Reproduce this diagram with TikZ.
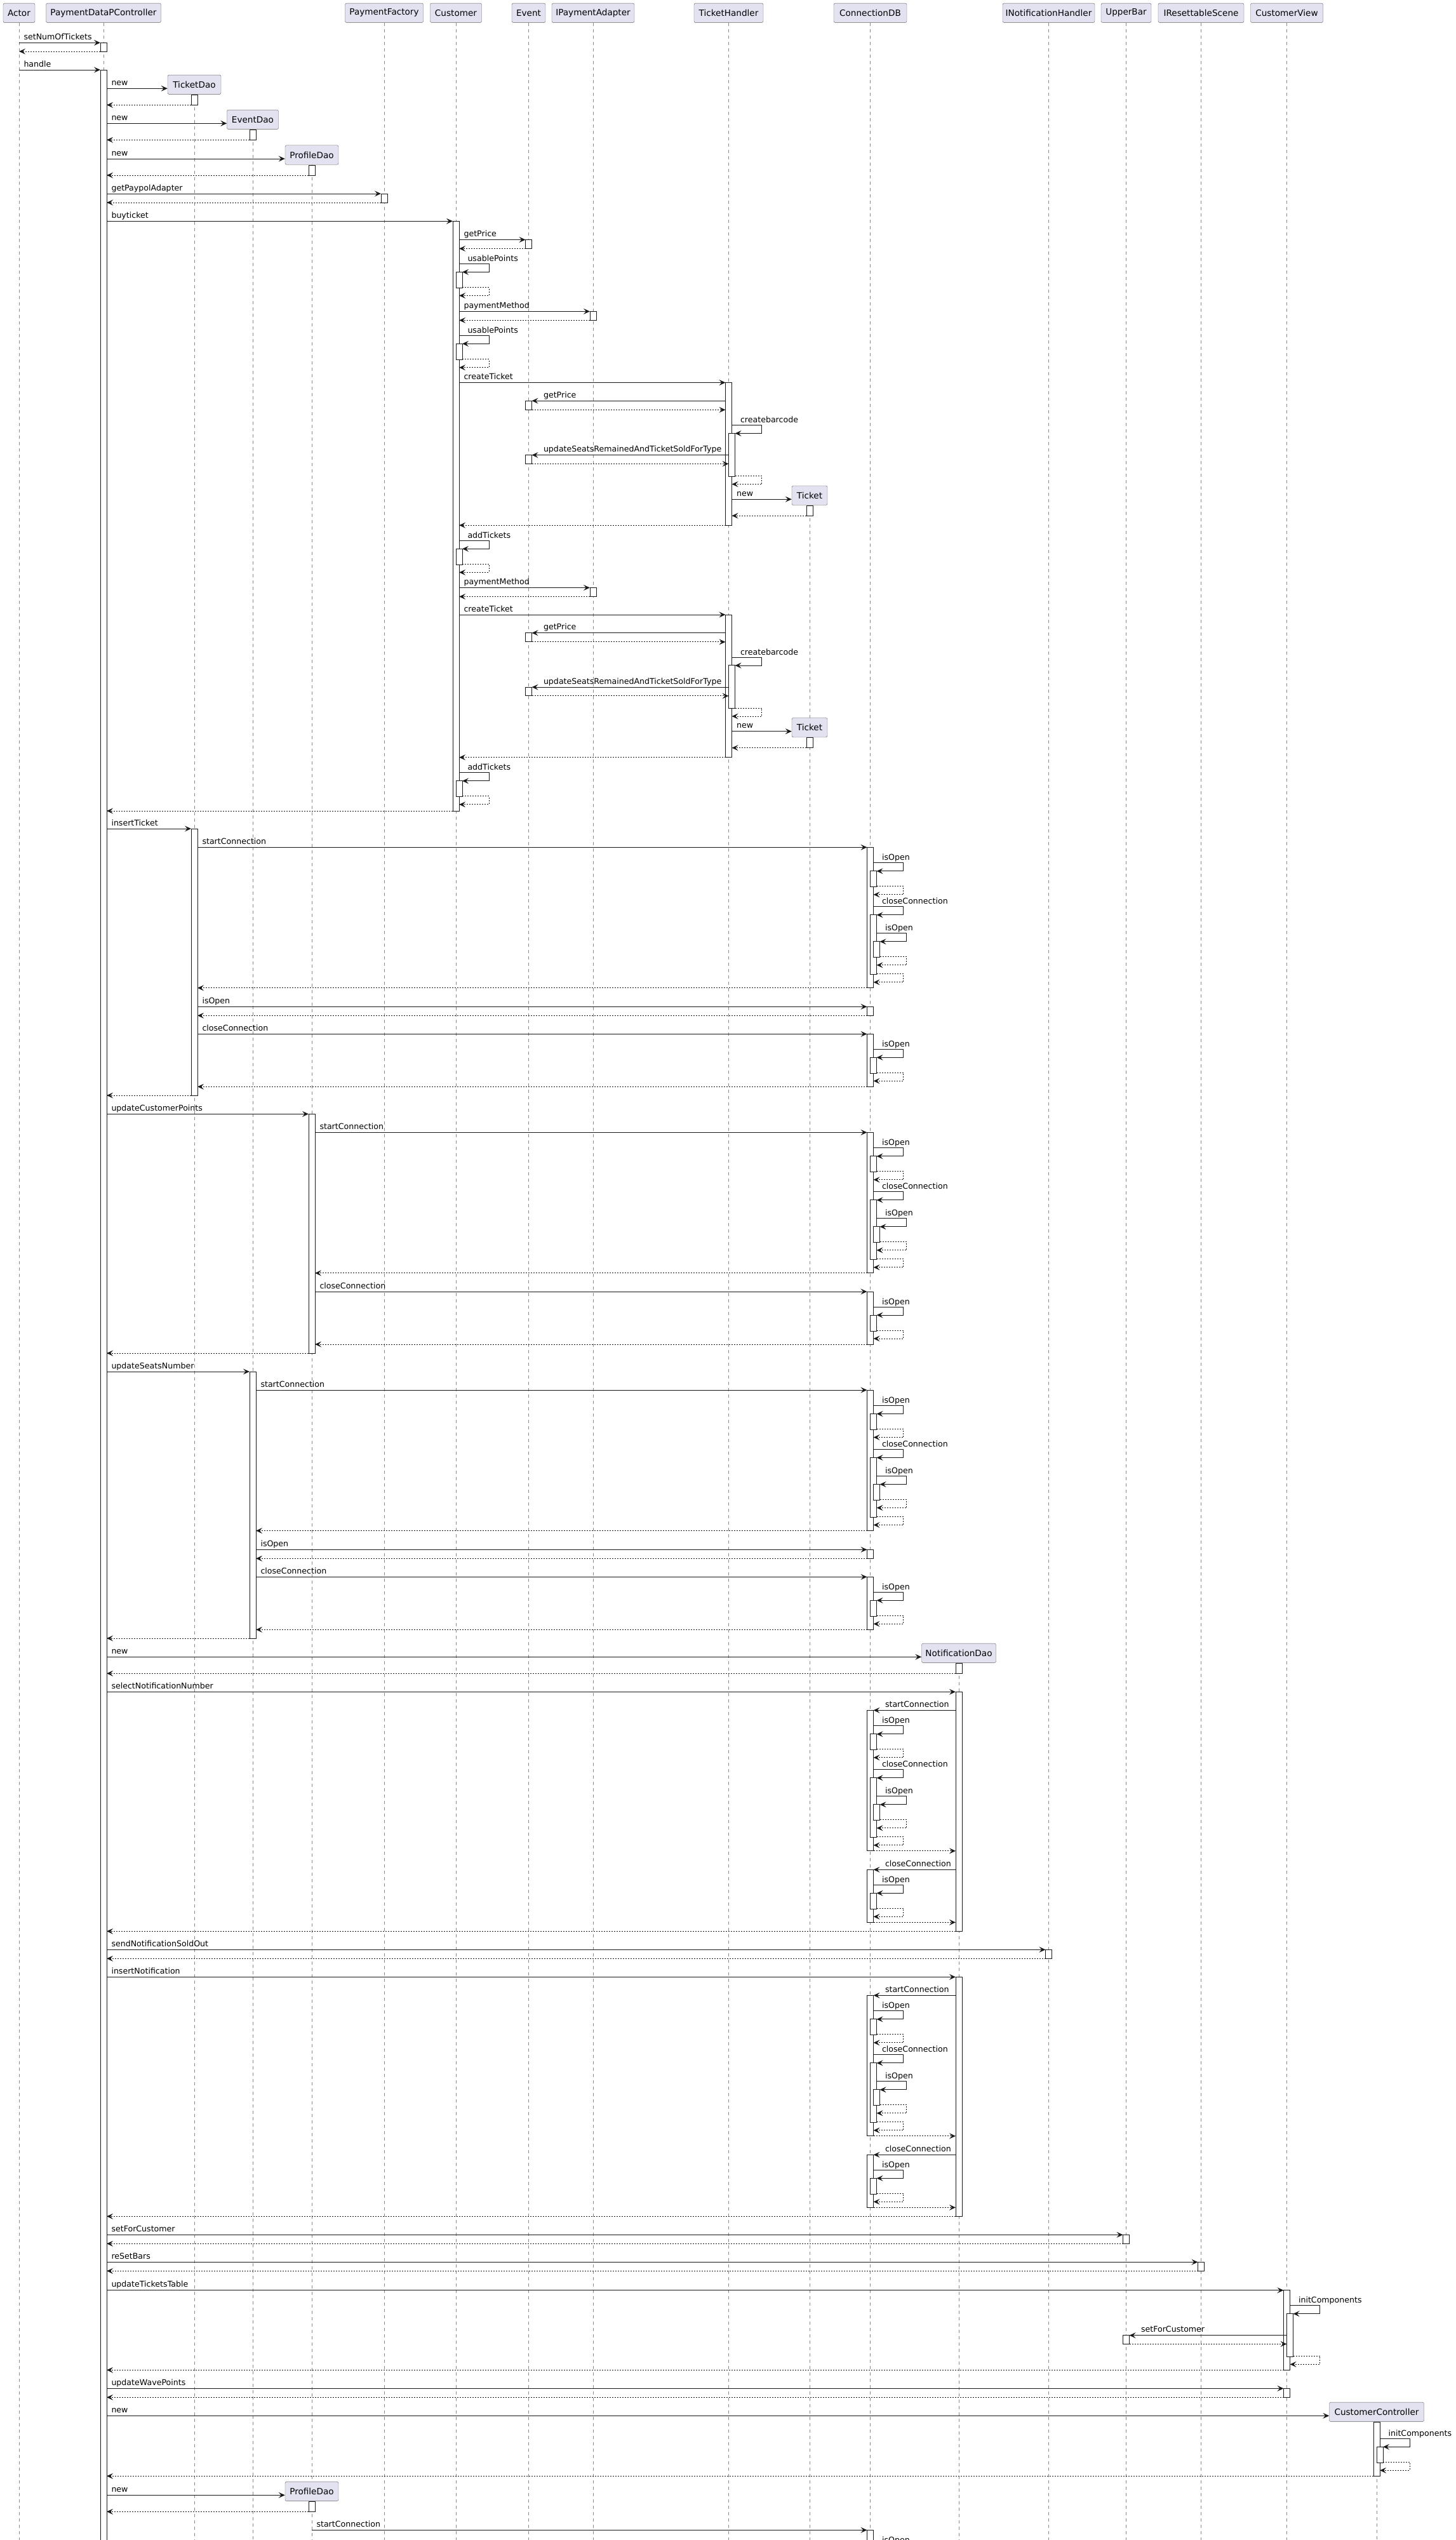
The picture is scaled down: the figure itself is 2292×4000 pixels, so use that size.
\documentclass[tikz,border=0pt]{standalone}
\usepackage{fontspec}
\setmainfont{DejaVu Sans}
\usetikzlibrary{arrows.meta, calc}
\definecolor{partfill}{HTML}{E2E2F0}
\definecolor{partline}{HTML}{5E5E5E}
\definecolor{msgline}{HTML}{181818}
\definecolor{lanecol}{HTML}{8A8A8A}
\pgfdeclarelayer{lanes}
\pgfsetlayers{lanes,main}

\newcommand\lane[1]{\begin{pgfonlayer}{lanes}\draw[life] (#1.south) -- (#1 |- 0,4000);\end{pgfonlayer}}
\newcommand\actbox[4]{\draw[actv] ($(#1 |- 0,#3)+(#2-5,0)$) rectangle ($(#1 |- 0,#4)+(#2+5,0)$);}
\newcommand\callR[6]{\draw[call] ($(#1 |- 0,#5)+(#2,0)$) -- node[lbl, pos=0, xshift=7pt] {#6} ($(#3 |- 0,#5)+(#4,0)$);}
\newcommand\callL[6]{\draw[call] ($(#1 |- 0,#5)+(#2,0)$) -- node[lbl, pos=1, xshift=18pt] {#6} ($(#3 |- 0,#5)+(#4,0)$);}
\newcommand\retn[5]{\draw[reply] ($(#1 |- 0,#5)+(#2,0)$) -- ($(#3 |- 0,#5)+(#4,0)$);}
\newcommand\selfcall[4]{\draw[call] ($(#1 |- 0,#3)+(#2,0)$) -- node[lbl, pos=0, xshift=13pt, yshift=-1pt] {#4} ++(47,0) -- ++(0,13) -- ++(-42,0);}
\newcommand\selfret[3]{\draw[reply] ($(#1 |- 0,#3)+(#2+5,0)$) -- ++(42,0) -- ++(0,13) -- ++(-47,0);}
\newcommand\simple[4]{\actbox{#2}{0}{#3}{#3+14}\callR{#1}{5}{#2}{-5}{#3}{#4}\retn{#2}{-5}{#1}{5}{#3+14}}
\newcommand\newobj[6]{\node[part, minimum width=#5pt] (#2) at (#3,#4-6) {#6};
  \draw[call] ($(#1 |- 0,#4)+(5,0)$) -- node[lbl, pos=0, xshift=7pt] {new} (#2.west |- 0,#4);}
\newcommand\newret[3]{\actbox{#2}{0}{#3+10}{#3+26}\retn{#2}{-5}{#1}{5}{#3+26}}

% connection blocks
\newcommand\dbopen[1]{%
  \actbox{cdb}{0}{#1}{#1+221.5}
  \actbox{cdb}{5}{#1+37.5}{#1+62.5}
  \selfcall{cdb}{5}{#1+24.5}{isOpen}
  \selfret{cdb}{5}{#1+61.5}
  \actbox{cdb}{5}{#1+106.5}{#1+200}
  \selfcall{cdb}{5}{#1+93.5}{closeConnection}
  \actbox{cdb}{10}{#1+148.5}{#1+173.5}
  \selfcall{cdb}{10}{#1+135.5}{isOpen}
  \selfret{cdb}{10}{#1+172.5}
  \selfret{cdb}{5}{#1+199.5}}
\newcommand\dbclose[1]{%
  \actbox{cdb}{0}{#1}{#1+83}
  \actbox{cdb}{5}{#1+37}{#1+62}
  \selfcall{cdb}{5}{#1+24}{isOpen}
  \selfret{cdb}{5}{#1+61}}
\newcommand\openR[2]{\dbopen{#2}\callR{#1}{5}{cdb}{-5}{#2}{startConnection}\retn{cdb}{-5}{#1}{5}{#2+221.5}}
\newcommand\openL[2]{\dbopen{#2}\callL{#1}{-5}{cdb}{5}{#2}{startConnection}\retn{cdb}{5}{#1}{-5}{#2+221.5}}
\newcommand\closeR[2]{\dbclose{#2}\callR{#1}{5}{cdb}{-5}{#2}{closeConnection}\retn{cdb}{-5}{#1}{5}{#2+83}}
\newcommand\closeL[2]{\dbclose{#2}\callL{#1}{-5}{cdb}{5}{#2}{closeConnection}\retn{cdb}{5}{#1}{-5}{#2+83}}

\newcommand\ticketblk[2]{%
  \actbox{th}{0}{#1}{#1+224.7}
  \callR{cust}{5}{th}{-5}{#1}{createTicket}
  \actbox{event}{0}{#1+28.7}{#1+42.9}
  \callL{th}{-5}{event}{5}{#1+28.7}{getPrice}
  \retn{event}{5}{th}{-5}{#1+42.9}
  \actbox{th}{5}{#1+79.6}{#1+147.8}
  \selfcall{th}{5}{#1+67}{createbarcode}
  \actbox{event}{0}{#1+114.1}{#1+127.9}
  \callL{th}{0}{event}{5}{#1+114.1}{updateSeatsRemainedAndTicketSoldForType}
  \retn{event}{5}{th}{0}{#1+127.9}
  \selfret{th}{5}{#1+147}
  \newobj{th}{#2}{1275}{#1+183.7}{56}{Ticket}
  \newret{th}{#2}{#1+183.7}
  \retn{th}{-5}{cust}{5}{#1+224.7}
  \actbox{cust}{5}{#1+261.8}{#1+286.7}
  \selfcall{cust}{5}{#1+248.8}{addTickets}
  \selfret{cust}{5}{#1+285.9}}

\begin{document}
\begin{tikzpicture}[x=1pt, y=-1pt,
  part/.style={draw=partline, fill=partfill, rounded corners=2.5pt,
    minimum height=30.5pt, inner xsep=2pt, inner ysep=0pt,
    font=\fontsize{13.6}{16}\selectfont},
  life/.style={draw=lanecol, line width=0.8pt, dash pattern=on 5pt off 5pt},
  actv/.style={draw=msgline, fill=white, line width=1pt},
  call/.style={draw=msgline, line width=1pt,
    -{Stealth[length=10pt, width=9pt, inset=4pt]}},
  reply/.style={call, dash pattern=on 2pt off 2pt},
  lbl/.style={font=\fontsize{12.6}{15}\selectfont, anchor=base west,
    inner sep=0pt, yshift=5pt}
]
  \begin{pgfonlayer}{lanes}
    \fill[white] (0,0) rectangle (2292,4000);
  \end{pgfonlayer}
  \useasboundingbox (0,0) rectangle (2292,4000);

  \foreach \nm/\x/\w/\lbl in
    {actor/30/50/Actor, pdpc/163/181/PaymentDataPController,
     pfac/605/123/PaymentFactory, cust/718/81/Customer, event/832.5/53/Event,
     ipa/934/130/IPaymentAdapter, th/1147.5/109/TicketHandler,
     cdb/1370.5/115/ConnectionDB, inh/1651.5/145/INotificationHandler,
     ubar/1773.5/79/UpperBar, irs/1891.5/135/IResettableScene,
     cview/2026.5/114/CustomerView}
  {
    \node[part, minimum width=\w pt] (\nm) at (\x,20.3) {\lbl};
    \lane{\nm}
  }

  \actbox{pdpc}{0}{67.3}{81}
  \callR{actor}{0}{pdpc}{-5}{67.3}{setNumOfTickets}
  \retn{pdpc}{-5}{actor}{0}{81}
  \actbox{pdpc}{0}{110}{4010}
  \callR{actor}{0}{pdpc}{-5}{110}{handle}

  \newobj{pdpc}{tdao}{306}{139.3}{84}{TicketDao} \lane{tdao}
  \newret{pdpc}{tdao}{139.3}
  \newobj{pdpc}{edao}{398}{194.3}{81}{EventDao} \lane{edao}
  \newret{pdpc}{edao}{194.3}
  \newobj{pdpc}{pdao}{491}{250}{84}{ProfileDao} \lane{pdao}
  \newret{pdpc}{pdao}{250}
  \simple{pdpc}{pfac}{305}{getPaypolAdapter}

  % buyticket
  \actbox{cust}{0}{348.3}{1277}
  \callR{pdpc}{5}{cust}{-5}{348.3}{buyticket}
  \simple{cust}{event}{377.5}{getPrice}
  \actbox{cust}{5}{428.4}{453.3}
  \selfcall{cust}{5}{415.4}{usablePoints}
  \selfret{cust}{5}{452.5}
  \simple{cust}{ipa}{490.4}{paymentMethod}
  \actbox{cust}{5}{541.3}{566.2}
  \selfcall{cust}{5}{528.3}{usablePoints}
  \selfret{cust}{5}{565.8}
  \ticketblk{602.5}{ticket} \lane{ticket}
  \simple{cust}{ipa}{925.5}{paymentMethod}
  \ticketblk{968}{ticketb}
  \retn{cust}{-5}{pdpc}{5}{1277}

  % insertTicket
  \actbox{tdao}{0}{1305}{1725}
  \callR{pdpc}{5}{tdao}{-5}{1305}{insertTicket}
  \openR{tdao}{1334.3}
  \simple{tdao}{cdb}{1585.3}{isOpen}
  \closeR{tdao}{1628.3}
  \retn{tdao}{-5}{pdpc}{5}{1725}

  % updateCustomerPoints
  \actbox{pdao}{0}{1754.3}{2131}
  \callR{pdpc}{5}{pdao}{-5}{1754.3}{updateCustomerPoints}
  \openR{pdao}{1783.3}
  \closeR{pdao}{2034}
  \retn{pdao}{-5}{pdpc}{5}{2131}

  % updateSeatsNumber
  \actbox{edao}{0}{2160}{2580}
  \callR{pdpc}{5}{edao}{-5}{2160}{updateSeatsNumber}
  \openR{edao}{2189}
  \simple{edao}{cdb}{2440.3}{isOpen}
  \closeR{edao}{2483.3}
  \retn{edao}{-5}{pdpc}{5}{2580}

  % notifications
  \newobj{pdpc}{ndao}{1510}{2609.3}{117}{NotificationDao} \lane{ndao}
  \newret{pdpc}{ndao}{2609.3}
  \actbox{ndao}{0}{2664.3}{3041.3}
  \callR{pdpc}{5}{ndao}{-5}{2664.3}{selectNotificationNumber}
  \openL{ndao}{2693.3}
  \closeL{ndao}{2944.3}
  \retn{ndao}{-5}{pdpc}{5}{3041.3}
  \simple{pdpc}{inh}{3070.3}{sendNotificationSoldOut}
  \actbox{ndao}{0}{3113.3}{3490.3}
  \callR{pdpc}{5}{ndao}{-5}{3113.3}{insertNotification}
  \openL{ndao}{3142.3}
  \closeL{ndao}{3393.3}
  \retn{ndao}{-5}{pdpc}{5}{3490.3}

  % views
  \simple{pdpc}{ubar}{3519.3}{setForCustomer}
  \simple{pdpc}{irs}{3562.3}{reSetBars}
  \actbox{cview}{0}{3606.7}{3732.3}
  \actbox{cview}{5}{3643.3}{3711.3}
  \callR{pdpc}{5}{cview}{-5}{3606.7}{updateTicketsTable}
  \selfcall{cview}{5}{3630.7}{initComponents}
  \actbox{ubar}{0}{3677.7}{3691.3}
  \callL{cview}{0}{ubar}{5}{3677.7}{setForCustomer}
  \retn{ubar}{5}{cview}{0}{3691.3}
  \selfret{cview}{5}{3710.3}
  \retn{cview}{-5}{pdpc}{5}{3732.3}
  \simple{pdpc}{cview}{3761.3}{updateWavePoints}

  \newobj{pdpc}{cctrl}{2168}{3804.3}{149}{CustomerController} \lane{cctrl}
  \actbox{cctrl}{0}{3814.3}{3899.3}
  \actbox{cctrl}{5}{3853.3}{3878.3}
  \selfcall{cctrl}{5}{3840.3}{initComponents}
  \selfret{cctrl}{5}{3877.3}
  \retn{cctrl}{-5}{pdpc}{5}{3899.3}

  \newobj{pdpc}{pdaob}{491}{3929.3}{84}{ProfileDao}
  \newret{pdpc}{pdaob}{3929.3}
  \actbox{cdb}{0}{3984.3}{4010}
  \callR{pdaob}{0}{cdb}{-5}{3984.3}{startConnection}
  \selfcall{cdb}{5}{4008.8}{isOpen}
\end{tikzpicture}
\end{document}
